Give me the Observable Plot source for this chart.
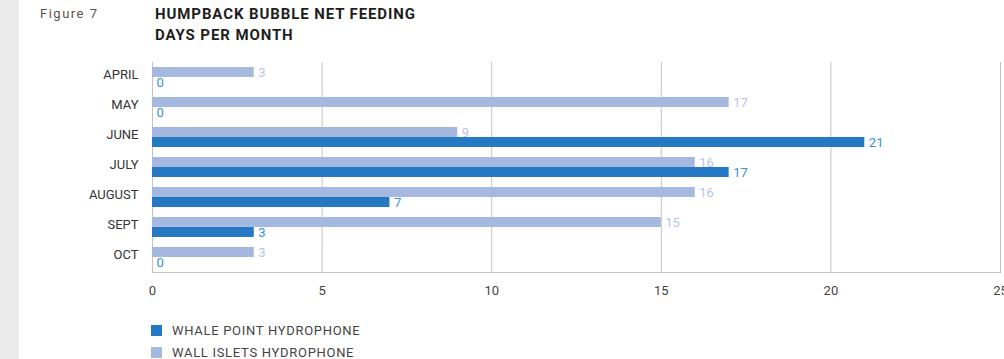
<!DOCTYPE html>
<html><head><meta charset="utf-8">
<script src="https://cdn.jsdelivr.net/npm/d3@7"></script>
<script src="https://cdn.jsdelivr.net/npm/@observablehq/plot@0.6"></script>
<style>
body{margin:0;width:1004px;height:359px;background:#fff;position:relative;overflow:hidden;font-family:Roboto,"DejaVu Sans",sans-serif;}
#strip{position:absolute;left:0;top:0;width:19px;height:359px;background:#ebebeb;}
#fig{position:absolute;left:40px;top:6px;font-size:13px;color:#555;letter-spacing:1.5px;}
#title{position:absolute;left:155px;top:4px;font-size:15px;font-weight:bold;line-height:21px;color:#1e1e1e;letter-spacing:0.9px;}
#chart{position:absolute;left:0;top:50px;}
#legend{position:absolute;left:151px;top:324px;font-size:13px;color:#444;letter-spacing:0.7px;}
.item{display:flex;align-items:center;height:12px;margin-bottom:10px;}
.sw{width:11px;height:11px;margin-right:10px;}
</style>
</head><body>
<div id="strip"></div>
<div id="fig">Figure 7</div>
<div id="title">HUMPBACK BUBBLE NET FEEDING<br>DAYS PER MONTH</div>
<div id="chart"></div>
<div id="legend"></div>
<script>
const months = ["APRIL","MAY","JUNE","JULY","AUGUST","SEPT","OCT"];
const wallIslets = [3,17,9,16,16,15,3];
const whalePoint = [0,0,21,17,7,3,0];
const seriesNames = ["WALL ISLETS HYDROPHONE","WHALE POINT HYDROPHONE"];
const legendOrder = ["WHALE POINT HYDROPHONE","WALL ISLETS HYDROPHONE"];
const barColors = {"WALL ISLETS HYDROPHONE":"#a5b8e0","WHALE POINT HYDROPHONE":"#2479c2"};
const labelColors = {"WALL ISLETS HYDROPHONE":"#b7c5ea","WHALE POINT HYDROPHONE":"#3a8fd8"};
const xTicks = [0,5,10,15,20,25];

const rows = [];
months.forEach((m,i)=>{
  rows.push({month:m, series:seriesNames[0], value:wallIslets[i]});
  rows.push({month:m, series:seriesNames[1], value:whalePoint[i]});
});

const barMarks = seriesNames.map(s => Plot.barX(rows, {filter:d=>d.series===s, x:"value", y:"series", fy:"month", fill:barColors[s]}));
const textMarks = seriesNames.map(s => Plot.text(rows, {filter:d=>d.series===s, x:"value", y:"series", fy:"month", text:d=>String(d.value), textAnchor:"start", dx:4, fill:labelColors[s], fontSize:13}));

const chart = Plot.plot({
  width:1004, height:250,
  marginLeft:152, marginRight:4, marginTop:11, marginBottom:28,
  style:{fontFamily:"Roboto, sans-serif", fontSize:"13px", background:"transparent", overflow:"visible"},
  x:{domain:[0,25], label:null},
  y:{domain:seriesNames, paddingInner:0, paddingOuter:0.43, axis:null},
  fy:{domain:months, padding:0, label:null},
  marks:[
    Plot.gridX(xTicks, {stroke:"#c2c2c2", strokeOpacity:1}),
    ...barMarks,
    ...textMarks,
    Plot.frame({anchor:"bottom", facetAnchor:"bottom", stroke:"#c2c2c2"}),
    Plot.axisX(xTicks, {tickSize:0, tickPadding:13, fill:"#444", fontSize:13, label:null}),
    Plot.axisFy({anchor:"left", tickSize:0, tickPadding:14, label:null, fontSize:13, fill:"#333", dy:-3})
  ]
});
document.getElementById("chart").appendChild(chart);

const lg = document.getElementById("legend");
legendOrder.forEach(s=>{
  const it = document.createElement("div"); it.className="item";
  const sw = document.createElement("div"); sw.className="sw"; sw.style.background=barColors[s];
  const t = document.createElement("span"); t.textContent=s;
  it.appendChild(sw); it.appendChild(t); lg.appendChild(it);
});
</script>
</body></html>
